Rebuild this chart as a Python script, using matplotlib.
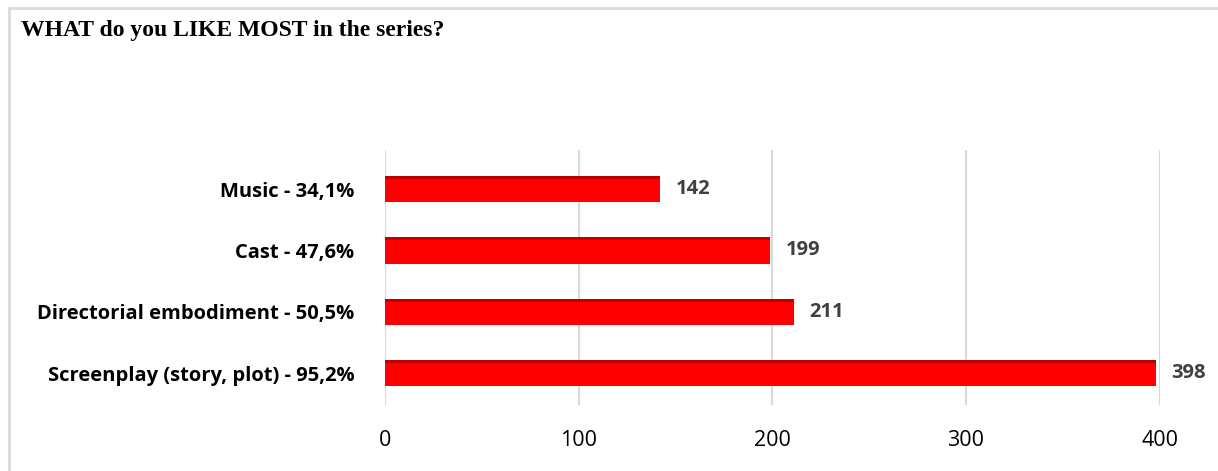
import matplotlib.pyplot as plt
from matplotlib.patches import Rectangle

# Survey answers, bottom to top as drawn
categories = ["Screenplay (story, plot) - 95,2%", "Directorial embodiment - 50,5%",
              "Cast - 47,6%", "Music - 34,1%"]
counts = [398, 211, 199, 142]
xticks = [0, 100, 200, 300, 400]

fig = plt.figure(figsize=(12.18, 4.71), dpi=100)
ax = fig.add_axes([0.316, 0.140, 0.636, 0.542])

pos = range(len(categories))
bar_h = 0.43
ax.barh(pos, counts, height=bar_h, color="#FF0000", zorder=3)
# darker top face to hint at the 3D look
ax.barh([p + bar_h / 2 - 0.025 for p in pos], counts, height=0.05, color="#C00000", zorder=4)

for p, v in zip(pos, counts):
    ax.text(v + 8, p, str(v), va="center", ha="left", fontsize=14.5,
            fontweight="bold", color="#404040", family="Open Sans")

ax.set_xlim(0, 400)
ax.set_ylim(-0.52, 3.64)
ax.set_xticks(xticks)
ax.set_xticklabels([str(t) for t in xticks], fontsize=15.5, family="Open Sans")
ax.set_yticks(list(pos))
ax.set_yticklabels(categories, fontsize=14.5, fontweight="bold", family="Open Sans")
ax.tick_params(axis="x", length=0, pad=18)
ax.tick_params(axis="y", length=0, pad=22)
ax.grid(axis="x", color="#D9D9D9", linewidth=1.5, zorder=0)
for s in ax.spines.values():
    s.set_visible(False)

fig.text(0.017, 0.936, "WHAT do you LIKE MOST in the series?", fontsize=17,
         fontweight="bold", family="Liberation Serif", va="center")

fig.patches.append(Rectangle((0.007, -0.01), 1.0, 0.993, transform=fig.transFigure,
                             fill=False, edgecolor="#D9D9D9", linewidth=2))

fig.savefig("out.png", dpi=100)
